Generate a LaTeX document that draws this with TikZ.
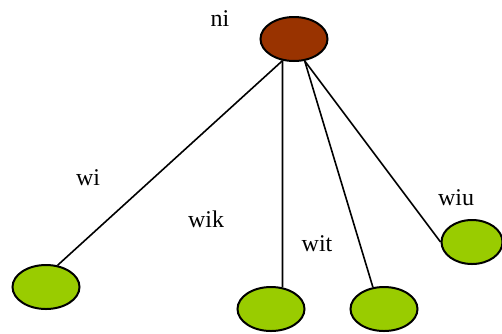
\documentclass[tikz,border=0pt]{standalone}
\usepackage{fontspec}
\setmainfont{Liberation Serif}
\usetikzlibrary{shapes.geometric}
\definecolor{rust}{HTML}{993300}
\definecolor{leafgreen}{HTML}{99CC00}
\begin{document}
\begin{tikzpicture}[x=1pt, y=-1pt,
    root/.style={ellipse, draw, line width=2pt, fill=rust, minimum width=67pt, minimum height=44pt, inner sep=0pt},
    leaf/.style={root, fill=leafgreen},
    edge/.style={line width=1.6pt},
    lbl/.style={anchor=base, font=\fontsize{24}{28}\selectfont}]
  \useasboundingbox (0,0) rectangle (502,333);
  % parent and its four children
  \node[root] (ni) at (294,39) {};
  \node[leaf] (wi) at (46,287) {};
  \node[leaf] (wik) at (271,309) {};
  \node[leaf] (wit) at (384,309) {};
  \node[leaf, minimum width=61pt] (wiu) at (472,242) {};
  % branches
  \draw[edge] (ni.242) -- (wi.62);
  \draw[edge] (ni.242) -- (wik.62);
  \draw[edge] (ni.296) -- (wit.117);
  \draw[edge] (ni.296) -- (wiu.180);
  % labels
  \node[lbl] (lni) at (220,26) {ni};
  \node[lbl] (lwi) at (88,185) {wi};
  \node[lbl] (lwik) at (206,227) {wik};
  \node[lbl] (lwit) at (317,251) {wit};
  \node[lbl] (lwiu) at (456,205) {wiu};
\end{tikzpicture}
\end{document}
